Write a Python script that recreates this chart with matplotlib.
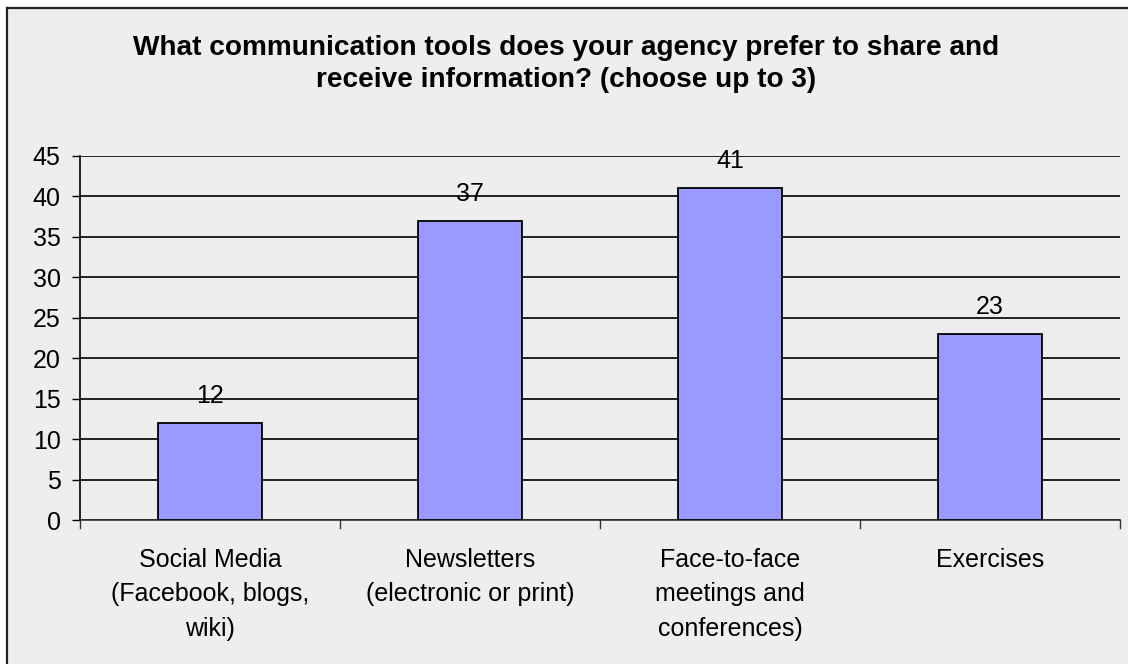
import matplotlib
matplotlib.use('Agg')
import matplotlib.pyplot as plt
from matplotlib.lines import Line2D

categories = ['Social Media\n(Facebook, blogs,\nwiki)',
              'Newsletters\n(electronic or print)',
              'Face-to-face\nmeetings and\nconferences)',
              'Exercises']
counts = [12, 37, 41, 23]
yticks = [0, 5, 10, 15, 20, 25, 30, 35, 40, 45]
title = ('What communication tools does your agency prefer to share and\n'
         'receive information? (choose up to 3)')

plt.rcParams['font.family'] = ['Liberation Sans', 'DejaVu Sans']

W, H = 1128, 664
fig = plt.figure(figsize=(W / 100, H / 100), dpi=100)
fig.patch.set_facecolor('white')

# chart area background and frame (top and left edges visible)
fig.patches.append(plt.Rectangle((7 / W, 0), 1 - 7 / W, 1 - 8 / H,
                                 transform=fig.transFigure,
                                 facecolor='#eeeeee', edgecolor='none', zorder=-10))
fig.lines.append(Line2D([7 / W, 1], [1 - 8 / H, 1 - 8 / H], transform=fig.transFigure,
                        color='#222222', lw=1.6))
fig.lines.append(Line2D([7 / W, 7 / W], [0, 1 - 8 / H], transform=fig.transFigure,
                        color='#222222', lw=1.6))

ax = fig.add_axes([80 / W, (H - 520) / H, (1120 - 80) / W, (520 - 156) / H])
ax.set_facecolor('none')

x = list(range(len(counts)))
ax.bar(x, counts, width=0.4, color='#9999ff', edgecolor='black', linewidth=1.3, zorder=3)

for xi, v in zip(x, counts):
    ax.annotate(str(v), (xi, v), xytext=(0, 19.5), textcoords='offset points',
                ha='center', va='center', fontsize=18, zorder=4)

ax.set_xlim(-0.5, len(counts) - 0.5)
ax.set_ylim(0, 45)
ax.set_yticks(yticks)
ax.tick_params(axis='y', labelsize=18, length=6, width=1, pad=8)
ax.yaxis.grid(True, color='black', linewidth=1.2, zorder=1)
ax.set_axisbelow(True)

ax.set_xticks(x)
ax.set_xticklabels(categories, fontsize=18, linespacing=1.55)
ax.tick_params(axis='x', length=0, pad=20)
for b in range(len(counts) + 1):
    ax.plot([b - 0.5, b - 0.5], [0, -0.022], color='#333333', lw=1,
            transform=ax.get_xaxis_transform(), clip_on=False)

for side in ['top', 'right']:
    ax.spines[side].set_visible(False)
ax.spines['left'].set_linewidth(1.2)
ax.spines['bottom'].set_linewidth(1.2)
ax.spines['bottom'].set_color('#333333')

fig.text(0.502, 1 - 64 / H, title, ha='center', va='center', fontsize=20.2,
         fontweight='bold', linespacing=1.32)

fig.savefig('out.png', dpi=100, facecolor=fig.get_facecolor())
